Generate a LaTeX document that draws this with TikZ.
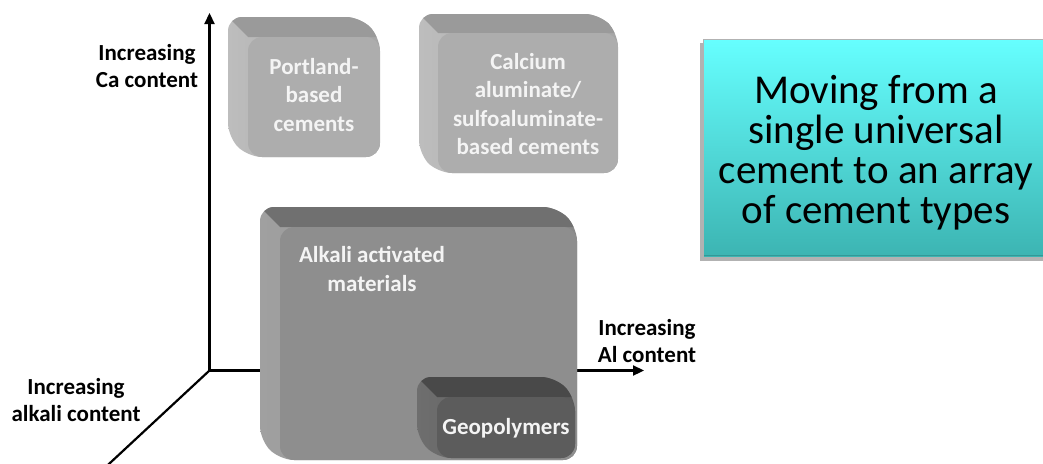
\documentclass[tikz,border=0pt]{standalone}
\usepackage{fontspec}
\setmainfont{Carlito}
\usetikzlibrary{arrows.meta}
\definecolor{lgfront}{HTML}{ADADAD}
\definecolor{lgtop}{HTML}{9A9A9A}
\definecolor{lgsideA}{HTML}{BDBDBD}
\definecolor{lgsideB}{HTML}{A6A6A6}
\definecolor{mgfront}{HTML}{8E8E8E}
\definecolor{mgtop}{HTML}{707070}
\definecolor{mgsideA}{HTML}{A0A0A0}
\definecolor{mgsideB}{HTML}{888888}
\definecolor{dgfront}{HTML}{5C5C5C}
\definecolor{dgtop}{HTML}{494949}
\definecolor{dgsideA}{HTML}{6E6E6E}
\definecolor{dgsideB}{HTML}{5A5A5A}
\definecolor{boxtext}{HTML}{F4F4F4}
\definecolor{tealtop}{HTML}{66FFFF}
\definecolor{tealbot}{HTML}{3CB4B2}
\newcommand\cubebox[8]{%
  \begin{scope}
    \clip[rounded corners=14pt] (#1-#5,#2-#5) -- (#3-#5,#2-#5) -- (#3,#2) -- (#3,#4) -- (#1,#4) -- (#1-#5,#4-#5) -- cycle;
    \shade[left color=#8A, right color=#8B] (#1-#5,#2-#5) rectangle (#3,#4);
    \fill[#7] (#1-#5,#2-#5) -- (#3-#5,#2-#5) -- (#3+2,#2) -- (#1,#2) -- cycle;
  \end{scope}
  \fill[#6, rounded corners=14pt] (#1,#2) rectangle (#3,#4);
}
\tikzset{
  axis/.style={line width=2.2pt, -{Triangle[length=11pt,width=10pt]}},
  axislabel/.style={font=\fontsize{23}{27.5}\selectfont\bfseries, align=center, text=black},
  boxlabel/.style={font=\fontsize{23}{28.5}\selectfont\bfseries, align=center, text=boxtext},
  bigtext/.style={font=\fontsize{41}{40}\selectfont, align=center, text=black}
}
\begin{document}
\begin{tikzpicture}[x=1pt,y=-1pt]
\useasboundingbox (0,0) rectangle (1043,463);
\clip (0,0) rectangle (1043,463);
% axes
\coordinate (O) at (209.5,370.5);
\coordinate (Ytip) at (209.5,13);
\coordinate (Xtip) at (644,370.5);
\coordinate (Ztip) at (96,476);
\draw[axis] (O) -- (Ytip);
\draw[axis] (O) -- (Xtip);
\draw[axis] (O) -- (Ztip);
% axis labels
\node[axislabel] (ylab) at (147,66) {Increasing\\Ca content};
\node[axislabel] (xlab) at (647,341) {Increasing\\Al content};
\node[axislabel] (zlab) at (76,400) {Increasing\\alkali content};
% boxes
\cubebox{248}{37}{380}{157}{20}{lgfront}{lgtop}{lgside}
\node[boxlabel] (portland) at (314,95) {Portland-\\based\\cements};
\cubebox{438}{33}{618}{173}{19}{lgfront}{lgtop}{lgside}
\node[boxlabel] (calcium) at (528,104) {Calcium\\aluminate/\\sulfoaluminate-\\based cements};
\cubebox{280}{227}{577}{460}{20}{mgfront}{mgtop}{mgside}
\node[boxlabel] (alkali) at (372,269) {Alkali activated\\materials};
\cubebox{437}{397}{575}{458}{20}{dgfront}{dgtop}{dgside}
\node[boxlabel] (geo) at (506,428) {Geopolymers};
% teal box
\fill[black!30] (700,43) rectangle (1060,261);
\shade[top color=tealtop, bottom color=tealbot] (703,39) rectangle (1060,257);
\draw[black!30, line width=0.8pt] (703,39) rectangle (1060,257);
\draw[tealbot!70!black, line width=1.2pt, opacity=0.5] (704,255.5) -- (1060,255.5);
\node[bigtext] (msg) at (876,153) {Moving from a\\single universal\\cement to an array\\of cement types};
\end{tikzpicture}
\end{document}
